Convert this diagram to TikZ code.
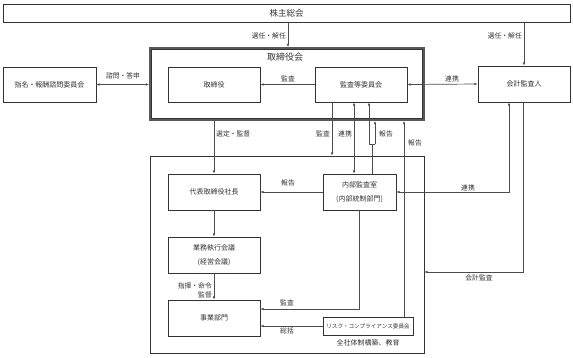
\documentclass[tikz,border=0pt]{standalone}
\usepackage{fontspec}
\setmainfont{Noto Sans CJK JP}
\usetikzlibrary{arrows.meta,calc}
\begin{document}
\begin{tikzpicture}[x=1pt,y=-1pt,
  box/.style={draw=black!80, line width=0.7pt, inner sep=0pt, text=black!80,
    font=\fontsize{7}{14}\selectfont, align=center},
  bodbox/.style={draw=black!65, line width=1.8pt, inner sep=0pt},
  lbl/.style={text=black!80, font=\fontsize{6.8}{7}\selectfont, inner sep=0pt},
  ln/.style={draw=black!70, line width=0.7pt},
  arr/.style={ln, -{Latex[length=3.2pt,width=2.6pt]}},
  darr/.style={ln, {Latex[length=3.2pt,width=2.6pt]}-{Latex[length=3.2pt,width=2.6pt]}}]
\useasboundingbox (0,0) rectangle (573,357);

% helper coordinates
\coordinate (c288) at (288,0);
\coordinate (c332) at (332,0);
\coordinate (c354) at (354,0);
\coordinate (c404) at (404,0);
\coordinate (c509) at (509,0);
\coordinate (c523) at (523,0);
\coordinate (y272) at (0,272);
\coordinate (y309) at (0,309);
\coordinate (jb) at (372,144);
\coordinate (jl) at (369,144);
\coordinate (jr) at (375,144);

% nodes
\node[box, minimum width=567pt, minimum height=18pt, font=\fontsize{8.5}{9}\selectfont] (soukai) at (286.5,13) {株主総会};
\node[bodbox, minimum width=274pt, minimum height=72pt] (bod) at (287,84) {};
\draw[draw=black!80, line width=0.5pt] ([shift={(2.4,2.4)}]bod.north west) rectangle ([shift={(-2.4,-2.4)}]bod.south east);
\node[lbl, font=\fontsize{9}{10}\selectfont] (bodt) at (285,57.5) {取締役会};
\node[box, minimum width=92pt, minimum height=35pt] (tori) at (214,84.5) {取締役};
\node[box, minimum width=92pt, minimum height=35pt] (kansa) at (361,84.5) {監査等委員会};
\node[box, minimum width=93pt, minimum height=35pt] (shimei) at (49.5,84.5) {指名・報酬諮問委員会};
\node[box, minimum width=92pt, minimum height=36pt] (kaikei) at (524,84) {会計監査人};
\node[box, minimum width=274pt, minimum height=197pt] (exec) at (287,254.5) {};
\node[box, minimum width=92pt, minimum height=36pt] (shacho) at (214,192) {代表取締役社長};
\node[box, minimum width=73pt, minimum height=36pt] (naibu) at (359.5,192) {内部監査室\\(内部統制部門)};
\node[box, minimum width=92pt, minimum height=36pt] (gyomu) at (214,255) {業務執行会議\\(経営会議)};
\node[box, minimum width=92pt, minimum height=36pt] (jigyo) at (214,318) {事業部門};
\node[box, minimum width=90pt, minimum height=18pt, font=\fontsize{5.6}{6}\selectfont] (risk) at (368,326) {リスク・コンプライアンス委員会};
\node[lbl, font=\fontsize{7}{7}\selectfont] (zensha) at (368,342.5) {全社体制構築、教育};

% connectors
\draw[arr] (soukai.south -| c288) -- (bod.north -| c288);
\node[lbl, anchor=east] (l1) at (286,36) {選任・解任};
\draw[arr] (soukai.south -| kaikei.north) -- (kaikei.north);
\node[lbl, anchor=east] (l2) at (522,36) {選任・解任};

\draw[darr] (shimei.east) -- (shimei.east -| bod.west);
\node[lbl] (l3) at (123,76) {諮問・答申};
\draw[arr] (kansa.west) -- (tori.east);
\node[lbl] (l4) at (288,79) {監査};
\draw[darr] (kansa.east) -- (kaikei.west);
\node[lbl] (l5) at (452,79) {連携};

\draw[arr] (bod.south -| tori.south) -- (shacho.north);
\node[lbl, anchor=west] (l6) at (216,134) {選定・監督};
\draw[arr] (kansa.south -| c332) -- (exec.north -| c332);
\node[lbl, anchor=east] (l7) at (330,134) {監査};
\draw[darr] (kansa.south -| c354) -- (naibu.north -| c354);
\node[lbl, anchor=east] (l8) at (352,134) {連携};
\draw[ln] (naibu.north -| jb) -- (jb);
\draw[ln] (jl) -- (jr);
\draw[arr] (jl) -- (jl |- kansa.south);
\draw[arr] (jr) -- (jr |- bod.south);
\node[lbl, anchor=west] (l9) at (379,134) {報告};
\draw[arr] (risk.north -| c404) -- (c404 |- bod.south);
\node[lbl, anchor=west] (l10) at (408,143) {報告};

\draw[arr] (naibu.west) -- (shacho.east);
\node[lbl] (l11) at (288,183) {報告};
\draw[darr] (kaikei.south -| c509) |- (naibu.east);
\node[lbl] (l12) at (468,187.5) {連携};
\draw[arr] (kaikei.south -| c523) |- (exec.east |- y272);
\node[lbl] (l13) at (479,278) {会計監査};

\draw[arr] (shacho.south) -- (gyomu.north);
\draw[arr] (gyomu.south) -- (jigyo.north);
\node[lbl, anchor=east] (l14) at (212,286) {指揮・命令};
\node[lbl, anchor=east] (l15) at (212,295) {監督};
\draw[arr] (naibu.south) |- (jigyo.east |- y309);
\node[lbl] (l16) at (287,303) {監査};
\draw[arr] (risk.west) -- (risk.west -| jigyo.east);
\node[lbl] (l17) at (287,331) {総括};
\end{tikzpicture}
\end{document}
